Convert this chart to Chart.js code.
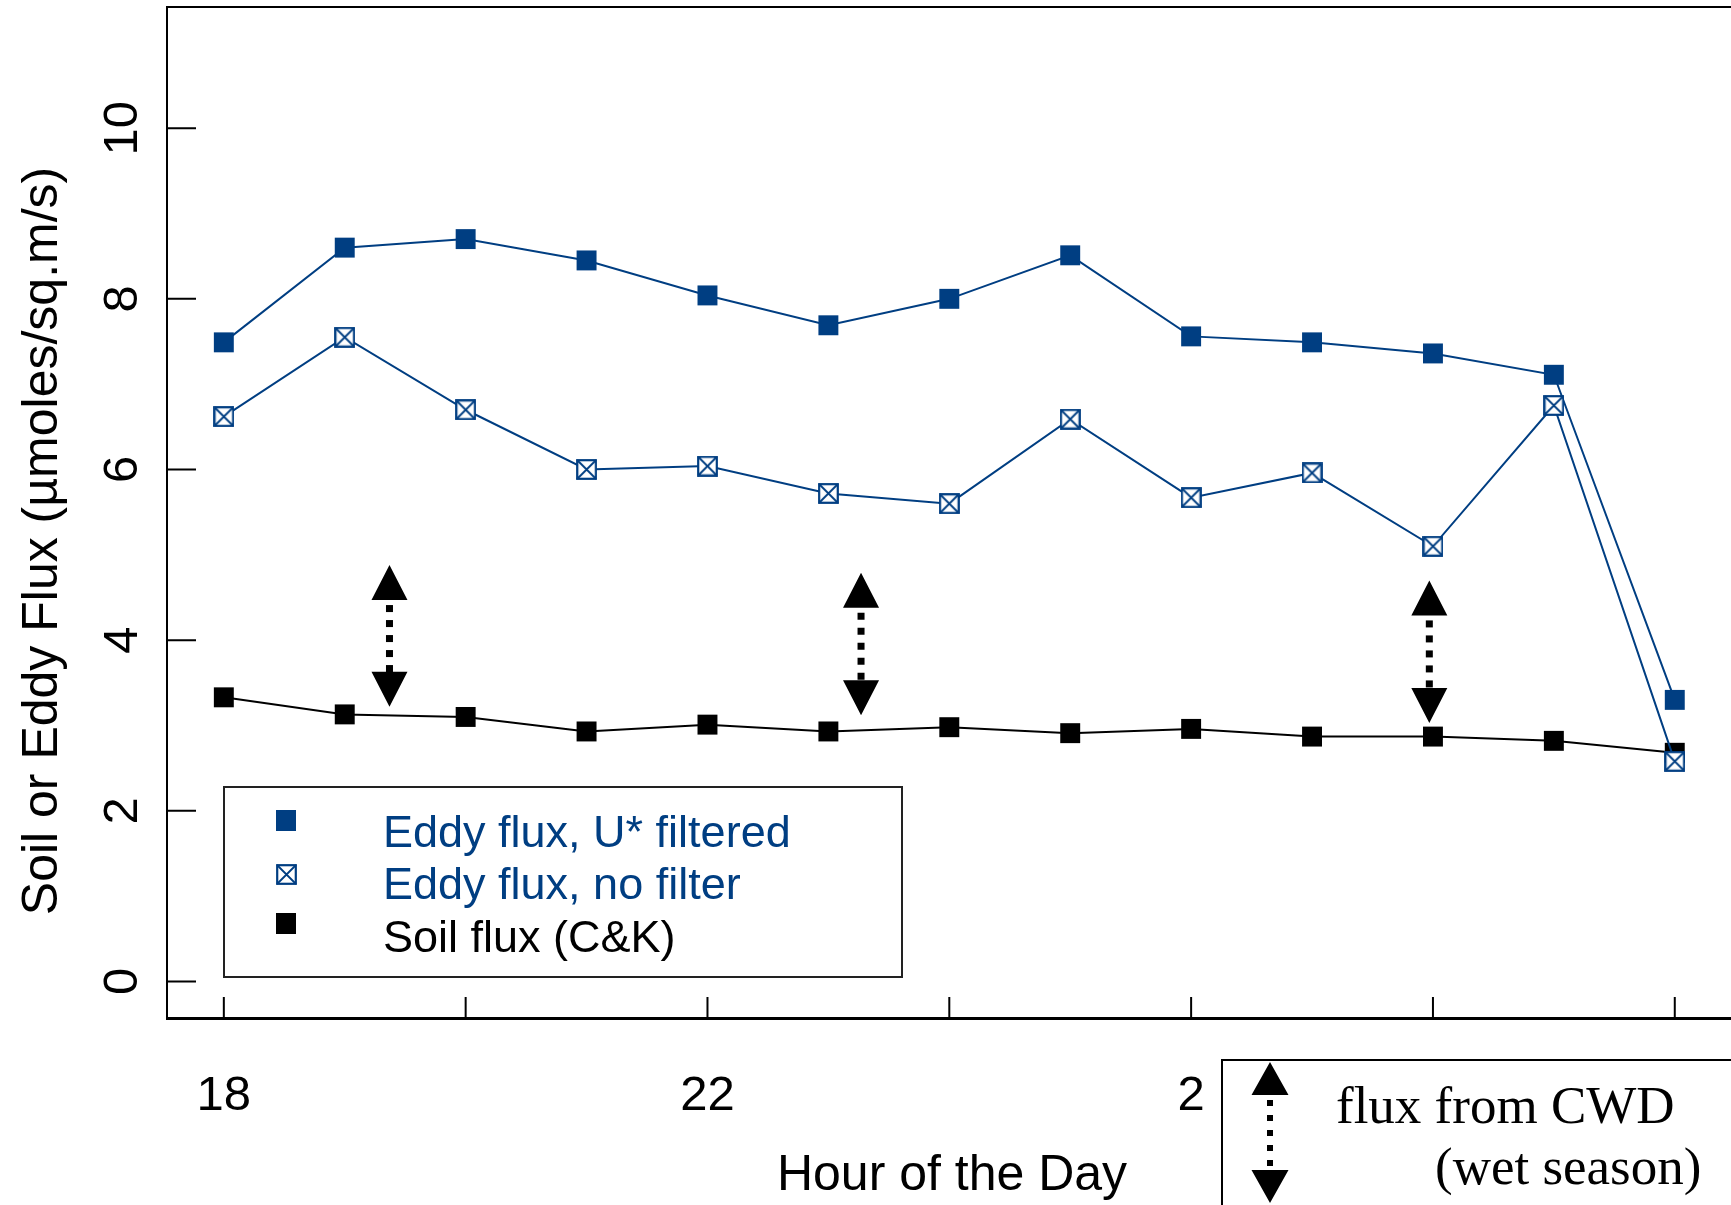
<!DOCTYPE html>
<html>
<head>
<meta charset="utf-8">
<script src="https://cdn.jsdelivr.net/npm/chart.js@4.4.1/dist/chart.umd.min.js"></script>
<style>
  html, body { margin: 0; padding: 0; background: #fff; }
  canvas { display: block; }
</style>
</head>
<body>
<canvas id="fluxChart" width="1731" height="1205"></canvas>
<script>
// Hours counted from 18:00; anything past 24 is the next morning
const hours = [18, 19, 20, 21, 22, 23, 24, 25, 26, 27, 28, 29, 30];
const eddyFiltered = [7.49, 8.60, 8.70, 8.45, 8.04, 7.69, 8.00, 8.51, 7.56, 7.49, 7.36, 7.11, 3.30];
const eddyNoFilter = [6.62, 7.55, 6.70, 6.00, 6.04, 5.72, 5.60, 6.59, 5.67, 5.96, 5.10, 6.75, 2.58];
const soilFlux = [3.33, 3.13, 3.10, 2.93, 3.01, 2.93, 2.98, 2.91, 2.96, 2.87, 2.87, 2.82, 2.68];

const xTickHours = [18, 20, 22, 24, 26, 28, 30];
const xLabelHours = [18, 22, 26];
const yTicks = [0, 2, 4, 6, 8, 10];

// dotted double arrows marking the CWD flux gap (hour, top, bottom in flux units)
const cwdHours = [19.37, 23.27, 27.97];
const cwdTop = [4.88, 4.79, 4.70];
const cwdBottom = [3.22, 3.12, 3.03];

const SANS = '"Liberation Sans", Arial, sans-serif';
const SERIF = '"Liberation Serif", "Times New Roman", serif';
const NAVY = '#003e82';

// open square with an X through it, used as a point style
function makeBoxCross(size, color) {
    const c = document.createElement('canvas');
    c.width = size;
    c.height = size;
    const g = c.getContext('2d');
    g.fillStyle = '#fff';
    g.fillRect(1, 1, size - 2, size - 2);
    g.strokeStyle = color;
    g.lineWidth = 2.2;
    g.strokeRect(1.2, 1.2, size - 2.4, size - 2.4);
    g.lineWidth = 1.8;
    g.beginPath();
    g.moveTo(1, 1); g.lineTo(size - 1, size - 1);
    g.moveTo(size - 1, 1); g.lineTo(1, size - 1);
    g.stroke();
    return c;
}
const boxCross = makeBoxCross(21, NAVY);

function toPoints(values) {
    return hours.map((h, i) => ({ x: h, y: values[i] }));
}

function hourLabel(h) {
    return String(h >= 24 ? h - 24 : h);
}

function drawCwdArrow(ctx, x, yTop, yBot, headW, headH, dot) {
    ctx.fillStyle = '#000';
    ctx.beginPath();
    ctx.moveTo(x, yTop);
    ctx.lineTo(x + headW / 2, yTop + headH);
    ctx.lineTo(x - headW / 2, yTop + headH);
    ctx.closePath();
    ctx.moveTo(x, yBot);
    ctx.lineTo(x + headW / 2, yBot - headH);
    ctx.lineTo(x - headW / 2, yBot - headH);
    ctx.closePath();
    ctx.fill();
    for (let y = yTop + headH + 5; y < yBot - headH; y += 15) {
        ctx.fillRect(x - dot / 2, y, dot, dot);
    }
}

// ticks, labels, titles, legend and CWD notes
const fluxDecor = {
    id: 'fluxDecor',
    afterDraw(chart) {
        const ctx = chart.ctx;
        const area = chart.chartArea;
        const xs = chart.scales.x;
        const ys = chart.scales.y;
        ctx.save();

        // top frame line
        ctx.strokeStyle = '#000';
        ctx.lineWidth = 2;
        ctx.beginPath();
        ctx.moveTo(area.left, area.top);
        ctx.lineTo(area.right, area.top);
        ctx.stroke();

        // inward tick marks
        ctx.lineWidth = 2;
        ctx.beginPath();
        yTicks.forEach(v => {
            const y = ys.getPixelForValue(v);
            ctx.moveTo(area.left, y);
            ctx.lineTo(area.left + 29, y);
        });
        xTickHours.forEach(h => {
            const x = xs.getPixelForValue(h);
            ctx.moveTo(x, area.bottom);
            ctx.lineTo(x, area.bottom - 21);
        });
        ctx.stroke();

        // tick labels
        ctx.fillStyle = '#000';
        ctx.font = '49px ' + SANS;
        ctx.textAlign = 'center';
        ctx.textBaseline = 'alphabetic';
        xLabelHours.forEach(h => {
            ctx.fillText(hourLabel(h), xs.getPixelForValue(h), 1110);
        });
        yTicks.forEach(v => {
            ctx.save();
            ctx.translate(137, ys.getPixelForValue(v));
            ctx.rotate(-Math.PI / 2);
            ctx.fillText(String(v), 0, 0);
            ctx.restore();
        });

        // axis titles
        ctx.font = '50px ' + SANS;
        ctx.fillText('Hour of the Day', 952, 1190);
        ctx.save();
        ctx.font = '50px ' + SANS;
        ctx.translate(57, 541);
        ctx.rotate(-Math.PI / 2);
        ctx.fillText('Soil or Eddy Flux (\u00b5moles/sq.m/s)', 0, 0);
        ctx.restore();

        // series legend
        ctx.fillStyle = '#fff';
        ctx.fillRect(224, 787, 678, 190);
        ctx.strokeStyle = '#222';
        ctx.lineWidth = 2;
        ctx.strokeRect(224, 787, 678, 190);
        const rows = [
            { text: 'Eddy flux, U* filtered', color: NAVY, mark: 'fill', my: 820, by: 847 },
            { text: 'Eddy flux, no filter', color: NAVY, mark: 'cross', my: 874, by: 899 },
            { text: 'Soil flux (C&K)', color: '#000', mark: 'fill', my: 923, by: 952 }
        ];
        ctx.font = '45px ' + SANS;
        ctx.textAlign = 'left';
        rows.forEach(r => {
            if (r.mark === 'fill') {
                ctx.fillStyle = r.color;
                ctx.fillRect(276, r.my - 10, 20, 21);
            } else {
                ctx.drawImage(boxCross, 276, r.my - 10);
            }
            ctx.fillStyle = r.color;
            ctx.fillText(r.text, 383, r.by);
        });

        // CWD arrows in the plot
        cwdHours.forEach((h, i) => {
            drawCwdArrow(ctx, xs.getPixelForValue(h), ys.getPixelForValue(cwdTop[i]),
                ys.getPixelForValue(cwdBottom[i]), 36, 35, 7);
        });

        // CWD key box, running off the lower right corner
        ctx.fillStyle = '#fff';
        ctx.fillRect(1222, 1060, 600, 200);
        ctx.strokeStyle = '#000';
        ctx.lineWidth = 2;
        ctx.strokeRect(1222, 1060, 600, 200);
        drawCwdArrow(ctx, 1270, 1062, 1203, 37, 33, 6);
        ctx.fillStyle = '#000';
        ctx.font = '53px ' + SERIF;
        ctx.textAlign = 'left';
        ctx.fillText('flux from CWD', 1336, 1123);
        ctx.fillText('(wet season)', 1435, 1184);

        ctx.restore();
    }
};

const ctx = document.getElementById('fluxChart').getContext('2d');
new Chart(ctx, {
    type: 'line',
    data: {
        datasets: [
            {
                label: 'Eddy flux, no filter',
                data: toPoints(eddyNoFilter),
                borderColor: NAVY,
                backgroundColor: NAVY,
                borderWidth: 2,
                pointStyle: boxCross,
                order: 0
            },
            {
                label: 'Eddy flux, U* filtered',
                data: toPoints(eddyFiltered),
                borderColor: NAVY,
                backgroundColor: NAVY,
                borderWidth: 2,
                pointStyle: 'rect',
                pointRadius: 14.1,
                pointBorderWidth: 0,
                order: 1
            },
            {
                label: 'Soil flux (C&K)',
                data: toPoints(soilFlux),
                borderColor: '#000',
                backgroundColor: '#000',
                borderWidth: 2,
                pointStyle: 'rect',
                pointRadius: 14.1,
                pointBorderWidth: 0,
                order: 2
            }
        ]
    },
    options: {
        responsive: false,
        animation: false,
        devicePixelRatio: 1,
        layout: { autoPadding: false, padding: { top: 7, left: 0, right: 0, bottom: 0 } },
        elements: { line: { tension: 0 } },
        plugins: {
            legend: { display: false },
            tooltip: { enabled: false }
        },
        scales: {
            x: {
                type: 'linear',
                min: 17.53,
                max: 30.465,
                grid: { display: false },
                border: { color: '#000', width: 3 },
                ticks: { display: false },
                afterFit: s => { s.height = 187; }
            },
            y: {
                type: 'linear',
                min: -0.428,
                max: 11.42,
                grid: { display: false },
                border: { color: '#000', width: 2 },
                ticks: { display: false },
                afterFit: s => { s.width = 167; }
            }
        }
    },
    plugins: [fluxDecor]
});
</script>
</body>
</html>
